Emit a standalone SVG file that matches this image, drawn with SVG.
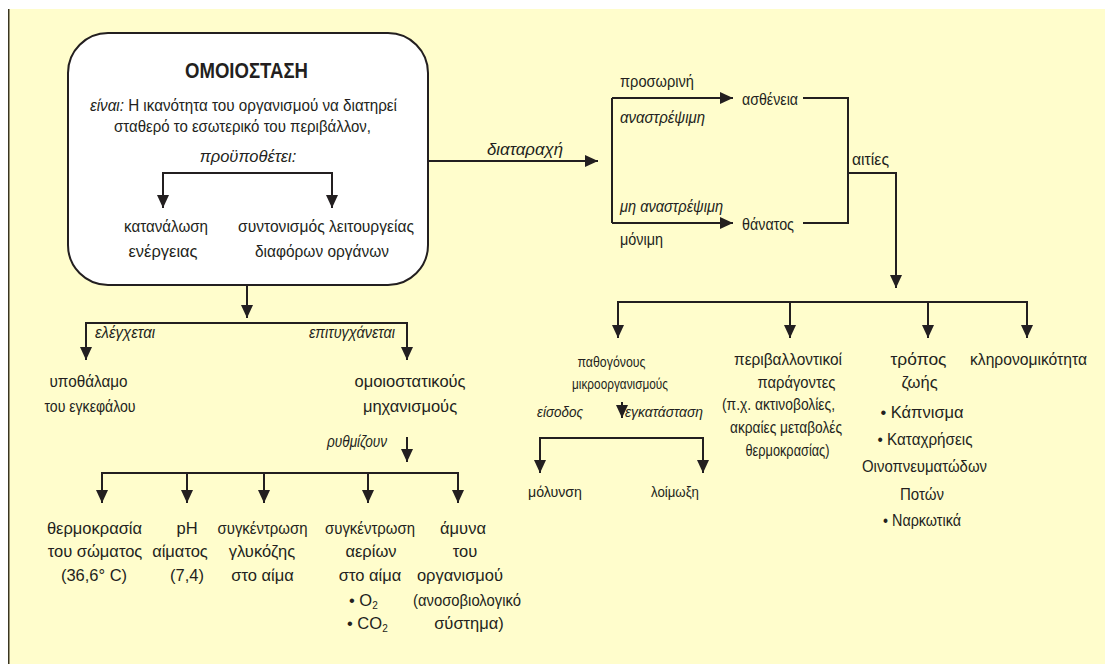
<svg xmlns="http://www.w3.org/2000/svg" width="1105" height="664" viewBox="0 0 1105 664">
<defs>
<marker id="ah" viewBox="0 0 13 12" refX="13" refY="6" markerWidth="13" markerHeight="12" markerUnits="userSpaceOnUse" orient="auto">
<path d="M0,0 L13,6 L0,12 z" fill="#231f20"/>
</marker>
</defs>
<style>
text{font-family:"Liberation Sans",Arial,sans-serif;font-size:16.5px;fill:#231f20;text-anchor:middle}
.i{font-style:italic}
.s{text-anchor:start}
.e{text-anchor:end}
.m{font-size:15.5px}
.t{font-size:22px;font-weight:bold}
.c path{fill:none;stroke:#231f20;stroke-width:2}
.a{marker-end:url(#ah)}
</style>
<rect x="8" y="9" width="1097" height="655" fill="#FFFDCC"/>
<line x1="8.75" y1="9" x2="8.75" y2="664" stroke="#3a3520" stroke-width="1.5"/>

<g id="omoiostasi">
<rect x="68" y="33" width="360" height="252" rx="40" ry="40" fill="#fff" stroke="#231f20" stroke-width="2"/>
<text class="t" x="246.5" y="78" textLength="123" lengthAdjust="spacingAndGlyphs">ΟΜΟΙΟΣΤΑΣΗ</text>
<text x="243.5" y="111" textLength="307" lengthAdjust="spacingAndGlyphs"><tspan class="i">είναι:</tspan> Η ικανότητα του οργανισμού να διατηρεί</text>
<text x="242.5" y="132" textLength="257" lengthAdjust="spacingAndGlyphs">σταθερό το εσωτερικό του περιβάλλον,</text>
<text class="i" x="248" y="162">προϋποθέτει:</text>
</g>
<g id="katanalosi"><text x="166" y="232" textLength="84" lengthAdjust="spacingAndGlyphs">κατανάλωση</text><text x="163" y="257">ενέργειας</text></g>
<g id="syntonismos"><text x="326" y="232" textLength="176" lengthAdjust="spacingAndGlyphs">συντονισμός λειτουργείας</text><text x="322" y="257" textLength="134" lengthAdjust="spacingAndGlyphs">διαφόρων οργάνων</text></g>

<g id="ypothalamo"><text x="88.5" y="387" textLength="78" lengthAdjust="spacingAndGlyphs">υποθάλαμο</text><text x="90" y="412" textLength="91" lengthAdjust="spacingAndGlyphs">του εγκεφάλου</text></g>
<g id="mixanismoi"><text x="410" y="387">ομοιοστατικούς</text><text x="410" y="412">μηχανισμούς</text></g>

<g id="thermokrasia"><text x="94.5" y="534">θερμοκρασία</text><text x="95" y="557">του σώματος</text><text x="94" y="581">(36,6° C)</text></g>
<g id="ph"><text x="187" y="534">pH</text><text x="180" y="557">αίματος</text><text x="187" y="581">(7,4)</text></g>
<g id="glykozi"><text x="262.5" y="534" textLength="90" lengthAdjust="spacingAndGlyphs">συγκέντρωση</text><text x="262" y="557">γλυκόζης</text><text x="262.5" y="581">στο αίμα</text></g>
<g id="aeria"><text x="370" y="534" textLength="90" lengthAdjust="spacingAndGlyphs">συγκέντρωση</text><text x="371" y="557">αερίων</text><text x="370" y="581">στο αίμα</text>
<text class="s" x="349" y="606">• O<tspan font-size="10" dy="3">2</tspan></text>
<text class="s" x="347" y="629">• CO<tspan font-size="10" dy="3">2</tspan></text></g>
<g id="amyna"><text x="463" y="534">άμυνα</text><text x="465" y="557">του</text><text x="460" y="581">οργανισμού</text><text x="467" y="606" textLength="108" lengthAdjust="spacingAndGlyphs">(ανοσοβιολογικό</text><text x="469" y="629">σύστημα)</text></g>

<g id="astheneia"><text class="s" x="742" y="105" textLength="56" lengthAdjust="spacingAndGlyphs">ασθένεια</text></g>
<g id="thanatos"><text class="s" x="742" y="230" textLength="52" lengthAdjust="spacingAndGlyphs">θάνατος</text></g>

<g id="pathogonoi"><text class="m" x="611.5" y="367" textLength="68" lengthAdjust="spacingAndGlyphs">παθογόνους</text><text class="m" x="620" y="389" textLength="96" lengthAdjust="spacingAndGlyphs">μικροοργανισμούς</text></g>
<g id="molynsi"><text class="m" x="555" y="497" textLength="54" lengthAdjust="spacingAndGlyphs">μόλυνση</text></g>
<g id="loimoxi"><text class="m" x="675" y="497" textLength="48" lengthAdjust="spacingAndGlyphs">λοίμωξη</text></g>
<g id="perivallontikoi"><text x="788" y="365" textLength="108" lengthAdjust="spacingAndGlyphs">περιβαλλοντικοί</text><text x="796.5" y="388" textLength="78" lengthAdjust="spacingAndGlyphs">παράγοντες</text><text x="778.5" y="410" textLength="113" lengthAdjust="spacingAndGlyphs">(π.χ. ακτινοβολίες,</text><text x="786" y="433" textLength="112" lengthAdjust="spacingAndGlyphs">ακραίες μεταβολές</text><text x="787.5" y="456" textLength="84" lengthAdjust="spacingAndGlyphs">θερμοκρασίας)</text></g>
<g id="tropos"><text x="918.5" y="365" textLength="56" lengthAdjust="spacingAndGlyphs">τρόπος</text><text x="919.5" y="388">ζωής</text><text x="922" y="418">• Κάπνισμα</text><text x="925" y="445" textLength="95" lengthAdjust="spacingAndGlyphs">• Καταχρήσεις</text><text x="924.5" y="472" textLength="125" lengthAdjust="spacingAndGlyphs">Οινοπνευματώδων</text><text x="922" y="500" textLength="44" lengthAdjust="spacingAndGlyphs">Ποτών</text><text x="922" y="526" textLength="78" lengthAdjust="spacingAndGlyphs">• Ναρκωτικά</text></g>
<g id="klironomikotita"><text x="1028.5" y="365" textLength="117" lengthAdjust="spacingAndGlyphs">κληρονομικότητα</text></g>

<g id="connectors" class="c">
<path class="a" d="M247,173 H163 V208"/>
<path class="a" d="M247,173 H332 V208"/>
<path class="a" d="M247,286 V318"/>
<path class="a" d="M247,323 H86 V360"/>
<path class="a" d="M247,323 H407 V360"/>
<path class="a" d="M407,437 V462"/>
<path class="a" d="M280,473 H102 V503"/>
<path class="a" d="M280,473 H458 V503"/>
<path class="a" d="M187,473 V503"/>
<path class="a" d="M264,473 V503"/>
<path class="a" d="M368,473 V503"/>
<path class="a" d="M427,161 H598"/>
<path d="M612,98 V223"/>
<path class="a" d="M612,98 H733"/>
<path class="a" d="M612,223 H733"/>
<path d="M803,98 H848 V223 H803"/>
<path class="a" d="M848,173 H896 V288"/>
<path class="a" d="M800,302 H618 V338"/>
<path class="a" d="M800,302 H1027 V338"/>
<path class="a" d="M790,302 V338"/>
<path class="a" d="M928,302 V338"/>
<path class="a" d="M622,402 V418"/>
<path class="a" d="M620,438 H540 V473"/>
<path class="a" d="M620,438 H703 V473"/>
</g>
<g id="labels">
<text class="i s" x="95" y="338" textLength="60" lengthAdjust="spacingAndGlyphs">ελέγχεται</text>
<text class="i e" x="395" y="338" textLength="86" lengthAdjust="spacingAndGlyphs">επιτυγχάνεται</text>
<text class="i e" x="387" y="447" textLength="60" lengthAdjust="spacingAndGlyphs">ρυθμίζουν</text>
<text class="i" x="525" y="155" textLength="76" lengthAdjust="spacingAndGlyphs">διαταραχή</text>
<text class="s" x="620" y="87" textLength="74" lengthAdjust="spacingAndGlyphs">προσωρινή</text>
<text class="i s" x="620" y="123" textLength="85" lengthAdjust="spacingAndGlyphs">αναστρέψιμη</text>
<text class="i s" x="620" y="212" textLength="103" lengthAdjust="spacingAndGlyphs">μη αναστρέψιμη</text>
<text class="s" x="620" y="245" textLength="43" lengthAdjust="spacingAndGlyphs">μόνιμη</text>
<text class="s" x="852" y="165" textLength="37" lengthAdjust="spacingAndGlyphs">αιτίες</text>
<text class="i s m" x="537" y="417" textLength="46" lengthAdjust="spacingAndGlyphs">είσοδος</text>
<text class="i s m" x="625" y="417" textLength="78" lengthAdjust="spacingAndGlyphs">εγκατάσταση</text>
</g>
</svg>
